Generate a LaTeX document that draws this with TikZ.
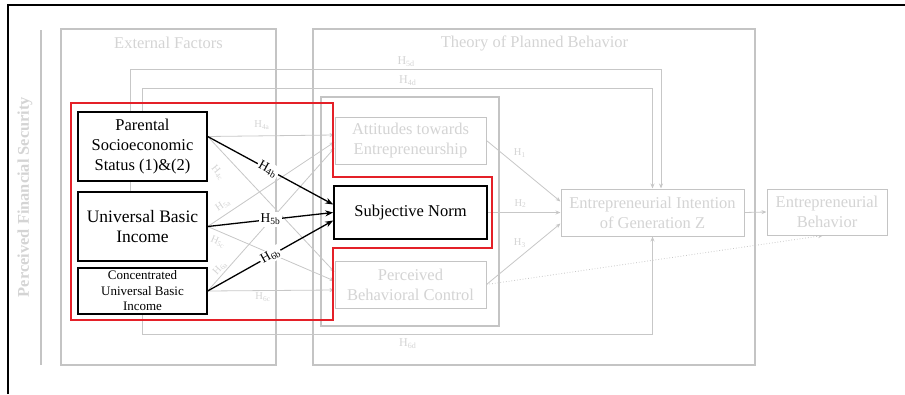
\documentclass[tikz,border=0pt]{standalone}
\usepackage{fontspec}
\setmainfont{Liberation Serif}
\usetikzlibrary{arrows.meta}
\pgfdeclarelayer{bg}
\pgfsetlayers{bg,main}
\definecolor{fadeline}{gray}{0.78}
\definecolor{fadetext}{gray}{0.83}
\definecolor{frameline}{gray}{0.77}
\definecolor{hilite}{RGB}{228,32,40}

\begin{document}
\begin{tikzpicture}[x=1pt,y=-1pt,
  every node/.style={font=\fontsize{16.5}{20}\selectfont},
  factor/.style={draw=black, line width=1.3pt, fill=white, inner sep=0pt, align=center},
  keybox/.style={draw=black, line width=1.6pt, fill=white, inner sep=0pt, align=center},
  fadebox/.style={draw=frameline, line width=1pt, fill=white, inner sep=0pt, align=center, text=fadetext},
  frame/.style={draw=frameline, line width=1.1pt},
  fadearrow/.style={draw=fadeline, line width=0.8pt, -{Stealth[length=5pt,width=4pt]}},
  keyarrow/.style={draw=black, line width=1.3pt, -{Stealth[length=8pt,width=6pt]}},
  hkey/.style={fill=white, inner sep=1.5pt, text=black, font=\fontsize{13.5}{14}\selectfont},
  hfade/.style={inner sep=1pt, text=fadetext, font=\fontsize{10.5}{11}\selectfont},
  hlong/.style={inner sep=1pt, text=fadetext, font=\fontsize{12}{12}\selectfont},
]
\useasboundingbox (0,0) rectangle (905,394);

% page frame
\draw[line width=2pt] (8,394) -- (8,5) -- (905,5);

% factor boxes
\node[factor, minimum width=129pt, minimum height=69pt] (pses) at (142.5,146.5)
  {Parental\\Socioeconomic\\Status (1)\&(2)};
\node[factor, minimum width=129pt, minimum height=69pt, font=\fontsize{17.5}{20}\selectfont] (ubi) at (142.5,226.5)
  {Universal Basic\\Income};
\node[factor, minimum width=129pt, minimum height=46pt, font=\fontsize{13}{15.5}\selectfont] (cubi) at (142.5,291)
  {Concentrated\\Universal Basic\\Income};

% planned behavior constructs
\node[fadebox, minimum width=151pt, minimum height=47pt] (att) at (410.5,140.5)
  {Attitudes towards\\Entrepreneurship};
\node[keybox, minimum width=153pt, minimum height=53pt] (sn) at (410.5,212.5) {Subjective Norm};
\node[fadebox, minimum width=151pt, minimum height=47pt] (pbc) at (410.5,284.5)
  {Perceived\\Behavioral Control};
\node[fadebox, minimum width=183pt, minimum height=47pt] (int) at (652.5,212.5)
  {Entrepreneurial Intention\\of Generation Z};
\node[fadebox, minimum width=120pt, minimum height=46pt] (beh) at (827,212)
  {Entrepreneurial\\Behavior};

\begin{pgfonlayer}{bg}
  % group frames and titles
  \draw[frame] (41,30) -- (41,365);
  \node[text=fadetext, rotate=90, font=\bfseries\fontsize{16.4}{20}\selectfont] (pfs) at (25,197)
    {Perceived Financial Security};
  \draw[frame] (61,29) rectangle (276,365);
  \node[text=fadetext] (extitle) at (168.5,43) {External Factors};
  \draw[frame] (313,29) rectangle (755,365);
  \node[text=fadetext] (tpbtitle) at (534.5,43) {Theory of Planned Behavior};
  \draw[frame] (321,97) rectangle (499,326);

  % factors to attitudes and perceived control
  \draw[fadearrow] ([yshift=10pt]pses.east) -- ([yshift=5.5pt]att.west);
  \draw[fadearrow] (ubi.east) -- ([yshift=-1.5pt]att.west);
  \draw[fadearrow] (cubi.east) -- ([yshift=-7.5pt]att.west);
  \draw[fadearrow] ([yshift=10pt]pses.east) -- ([yshift=12.5pt]pbc.west);
  \draw[fadearrow] (ubi.east) -- ([yshift=3.5pt]pbc.west);
  \draw[fadearrow] (cubi.east) -- ([yshift=-5.5pt]pbc.west);
  \node[hfade] (l4a) at (262,125) {H\textsubscript{4a}};
  \node[hfade, rotate=-50] (l4c) at (218,173) {H\textsubscript{4c}};
  \node[hfade, rotate=34] (l5a) at (223,205) {H\textsubscript{5a}};
  \node[hfade, rotate=-24] (l5c) at (218,242) {H\textsubscript{5c}};
  \node[hfade, rotate=48] (l6a) at (220,268) {H\textsubscript{6a}};
  \node[hfade] (l6c) at (263,297) {H\textsubscript{6c}};

  % constructs to intention and behavior
  \draw[fadearrow] (att.east) -- node[hfade, pos=.45, yshift=15pt] {H\textsubscript{1}} ([yshift=11pt]int.west);
  \draw[fadearrow] (sn.east) -- node[hfade, pos=.45, yshift=9pt] {H\textsubscript{2}} (int.west);
  \draw[fadearrow] (pbc.east) -- node[hfade, pos=.45, yshift=14pt] {H\textsubscript{3}} ([yshift=-11pt]int.west);
  \draw[fadearrow] (int.east) -- (beh.west);
  \draw[fadearrow, dotted] (pbc.east) -- ([xshift=-4pt]beh.south);

  % direct paths from factors to intention
  \draw[fadearrow] ([xshift=-12.5pt]ubi.north) -- ++(0,-122)
    -| node[hlong, pos=.26, yshift=8pt] {H\textsubscript{5d}} ([xshift=8.5pt]int.north);
  \draw[fadearrow] (pses.north) -- ++(0,-23)
    -| node[hlong, pos=.26, yshift=8pt] {H\textsubscript{4d}} (int.north);
  \draw[fadearrow] (cubi.south) -- ++(0,20)
    -| node[hlong, pos=.26, yshift=-9pt] {H\textsubscript{6d}} (int.south);
\end{pgfonlayer}

% factors to subjective norm
\draw[keyarrow] ([yshift=10pt]pses.east) -- node[hkey, sloped, pos=.48] {H\textsubscript{4b}} ([yshift=8pt]sn.west);
\draw[keyarrow] (ubi.east) -- node[hkey, pos=.5] {H\textsubscript{5b}} (sn.west);
\draw[keyarrow] (cubi.east) -- node[hkey, sloped, pos=.5] {H\textsubscript{6b}} ([yshift=-8pt]sn.west);

% highlighted region
\draw[hilite, line width=1.4pt] (71,103) -- (333,103) -- (333,177) -- (492,177)
  -- (492,248) -- (333,248) -- (333,320) -- (71,320) -- cycle;
\end{tikzpicture}
\end{document}
